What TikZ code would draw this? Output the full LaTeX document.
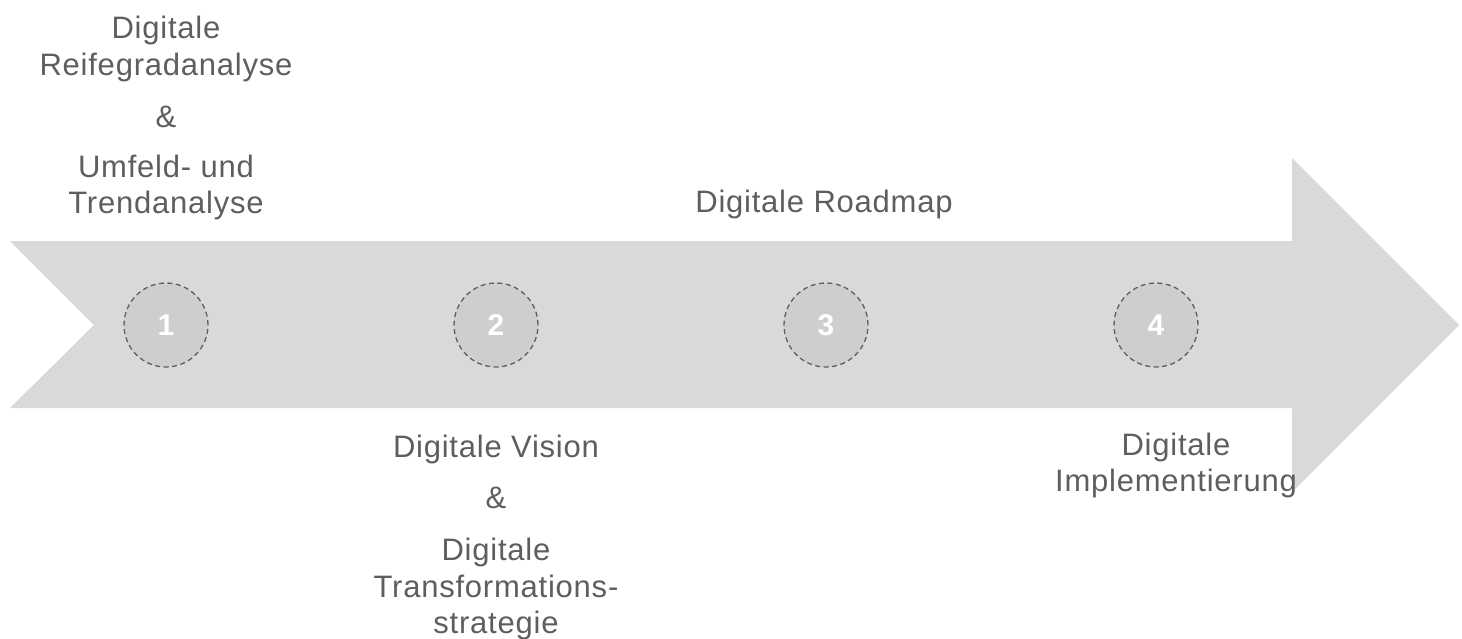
\documentclass[tikz,border=0pt]{standalone}
\usepackage{fontspec}
\setmainfont{Liberation Sans}[LetterSpace=2.5]
\newfontfamily\numfont{Liberation Sans}
\begin{document}
\begin{tikzpicture}[x=1pt,y=-1pt,
  lbl/.style={anchor=base,inner sep=0pt,text=txtgray,font=\fontsize{31}{37}\selectfont},
  stepcircle/.style={circle,minimum size=84pt,inner sep=0pt,fill=circgray,draw=dashgray,line width=1.3pt,dash pattern=on 5pt off 3.5pt,text=white,font=\numfont\bfseries\fontsize{30}{32}\selectfont}]
\definecolor{arrowgray}{HTML}{D9D9D9}
\definecolor{circgray}{HTML}{CFCDCE}
\definecolor{dashgray}{HTML}{5F5F5F}
\definecolor{txtgray}{HTML}{5E5E5E}
\useasboundingbox (0,0) rectangle (1462,638);
\fill[arrowgray] (10,241) -- (1292,241) -- (1292,158) -- (1459,325) -- (1292,492) -- (1292,408) -- (10,408) -- (94,325) -- cycle;
\node[stepcircle] (c1) at (166,325) {1};
\node[stepcircle] (c2) at (496,325) {2};
\node[stepcircle] (c3) at (826,325) {3};
\node[stepcircle] (c4) at (1156,325) {4};
% top left
\node[lbl] (a1) at (166,38) {Digitale};
\node[lbl] (a2) at (166,75) {Reifegradanalyse};
\node[lbl] (a3) at (166,127) {\&};
\node[lbl] (a4) at (166,177) {Umfeld- und};
\node[lbl] (a5) at (166,213) {Trendanalyse};
% roadmap
\node[lbl] (r1) at (824,212) {Digitale Roadmap};
% bottom middle
\node[lbl] (b1) at (496,457) {Digitale Vision};
\node[lbl] (b2) at (496,508) {\&};
\node[lbl] (b3) at (496,560) {Digitale};
\node[lbl] (b4) at (496,597) {Transformations-};
\node[lbl] (b5) at (496,633) {strategie};
% bottom right
\node[lbl] (d1) at (1176,455) {Digitale};
\node[lbl] (d2) at (1176,491) {Implementierung};
\end{tikzpicture}
\end{document}
